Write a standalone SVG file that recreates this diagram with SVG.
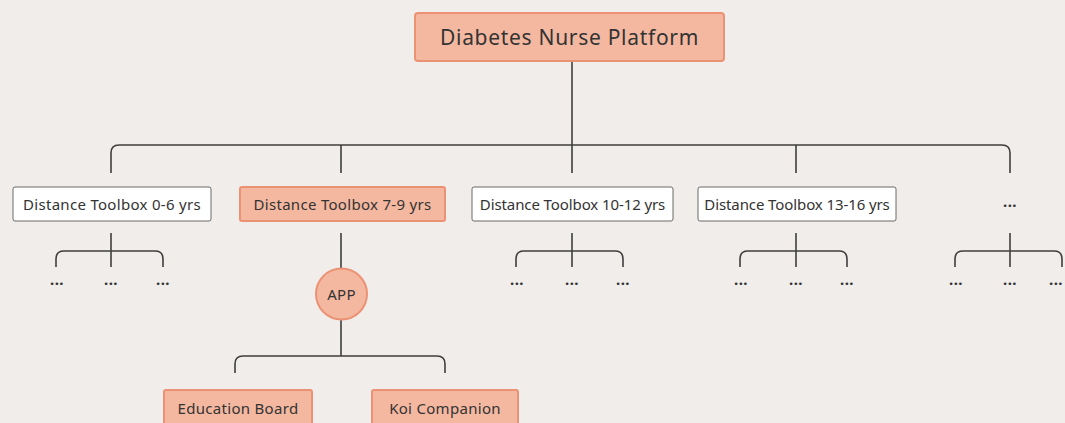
<svg xmlns="http://www.w3.org/2000/svg" width="1065" height="423" viewBox="0 0 1065 423">
<style>
.bg{fill:#f0edeb}
.hl{fill:#f4b8a0;stroke:#ec9274;stroke-width:2}
.pl{fill:#ffffff;stroke:#6b6b6b;stroke-width:1}
.t{font-family:"Noto Sans","Liberation Sans",sans-serif;fill:#333333;text-anchor:middle;dominant-baseline:central}
.s{font-size:15px;letter-spacing:0.3px}
.n{letter-spacing:-0.1px}
.d{font-size:15px;font-weight:bold;letter-spacing:0.5px}
.c{fill:none;stroke:#3f3f3f;stroke-width:1.6}
</style>
<rect class="bg" x="0" y="0" width="1065" height="423"/>
<g id="connectors">
<path class="c" d="M572 61V145"/>
<path class="c" d="M111 173V153Q111 145 119 145H1002Q1010 145 1010 153V173"/>
<path class="c" d="M341 145V173M572 145V173M796 145V173"/>
<path class="c" d="M111 233V267M56 267V259Q56 251 64 251H155Q163 251 163 259V267"/>
<path class="c" d="M572 233V267M516 267V259Q516 251 524 251H615Q623 251 623 259V267"/>
<path class="c" d="M796 233V267M740 267V259Q740 251 748 251H839Q847 251 847 259V267"/>
<path class="c" d="M1010 233V267M955 267V259Q955 251 963 251H1054Q1062 251 1062 259V267"/>
<path class="c" d="M341 233V268M341 320V356M235 373V364Q235 356 243 356H437Q445 356 445 364V373"/>
</g>
<g id="root"><rect class="hl" x="415" y="13" width="309" height="48" rx="3"/><text class="t" x="569.5" y="37" font-size="21" letter-spacing="0.7">Diabetes Nurse Platform</text></g>
<g id="n06"><rect class="pl" x="13" y="187" width="198" height="34" rx="2"/><text class="t s" x="112" y="204">Distance Toolbox 0-6 yrs</text></g>
<g id="n79"><rect class="hl" x="240" y="187" width="205" height="34" rx="2"/><text class="t s" x="342.5" y="204">Distance Toolbox 7-9 yrs</text></g>
<g id="n1012"><rect class="pl" x="472" y="187" width="201" height="34" rx="2"/><text class="t s n" x="572.5" y="204">Distance Toolbox 10-12 yrs</text></g>
<g id="n1316"><rect class="pl" x="698" y="187" width="198" height="34" rx="2"/><text class="t s n" x="797" y="204">Distance Toolbox 13-16 yrs</text></g>
<g id="nmore"><text class="t d" x="1010" y="201">...</text></g>
<g id="d1"><text class="t d" x="57" y="279">...</text><text class="t d" x="111" y="279">...</text><text class="t d" x="163" y="279">...</text></g>
<g id="d3"><text class="t d" x="517" y="279">...</text><text class="t d" x="572" y="279">...</text><text class="t d" x="623" y="279">...</text></g>
<g id="d4"><text class="t d" x="741" y="279">...</text><text class="t d" x="796" y="279">...</text><text class="t d" x="847" y="279">...</text></g>
<g id="d5"><text class="t d" x="956" y="279">...</text><text class="t d" x="1010" y="279">...</text><text class="t d" x="1056" y="279">...</text></g>
<g id="app"><circle class="hl" cx="341.5" cy="294" r="25.5"/><text class="t s" x="341.5" y="294">APP</text></g>
<g id="edu"><rect class="hl" x="164" y="390" width="148" height="36" rx="2"/><text class="t s" x="238" y="408">Education Board</text></g>
<g id="koi"><rect class="hl" x="372" y="390" width="146" height="36" rx="2"/><text class="t s" x="445" y="408">Koi Companion</text></g>
</svg>
